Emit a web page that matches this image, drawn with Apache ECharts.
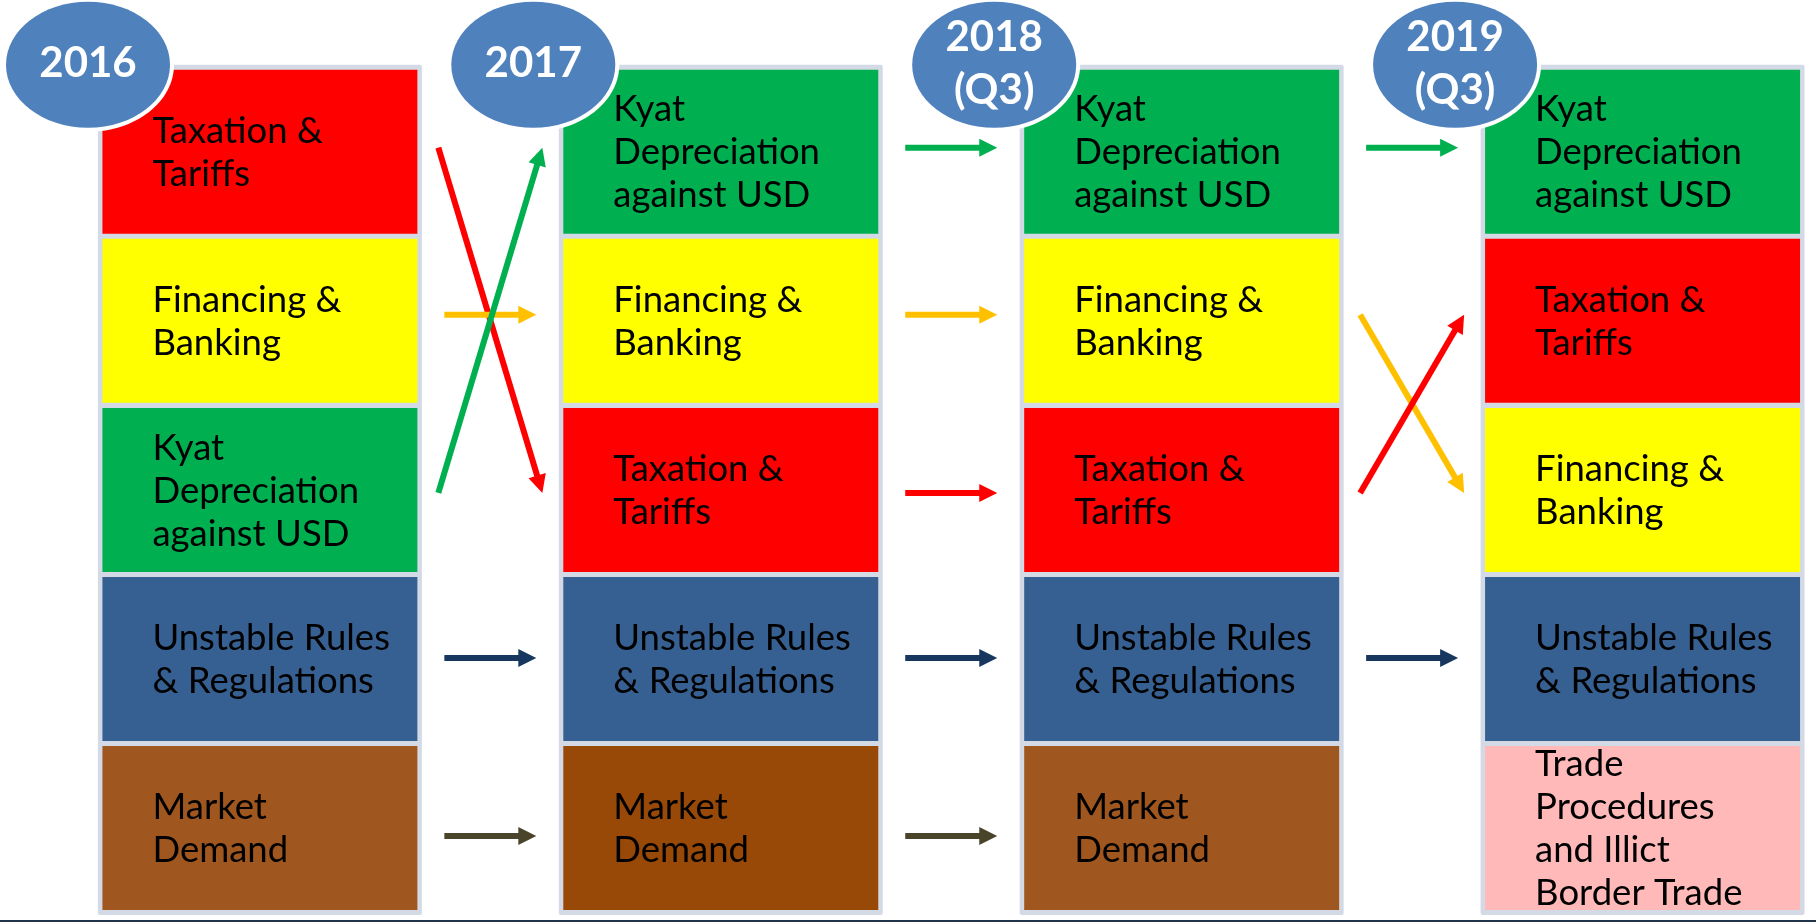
<!DOCTYPE html>
<html><head><meta charset="utf-8">
<script src="https://cdn.jsdelivr.net/npm/echarts@6/dist/echarts.min.js"></script>
<style>html,body{margin:0;padding:0;background:#fff;overflow:hidden}#c{width:1816px;height:922px}</style>
</head><body><div id="c"></div>
<script>
// ---- data ----
const years = ['2016', '2017', '2018\n(Q3)', '2019\n(Q3)'];
const yearIndex = [0, 1, 2, 3];
const ranks = ['1', '2', '3', '4', '5'];
const factors = ['Taxation & Tariffs', 'Financing & Banking', 'Kyat Depreciation against USD',
  'Unstable Rules & Regulations', 'Market Demand', 'Trade Procedures and Illict Border Trade'];
const factorLabels = ['Taxation &\nTariffs', 'Financing &\nBanking', 'Kyat\nDepreciation\nagainst USD',
  'Unstable Rules\n& Regulations', 'Market\nDemand', 'Trade\nProcedures\nand Illict\nBorder Trade'];
const rank2016 = ['Taxation & Tariffs', 'Financing & Banking', 'Kyat Depreciation against USD', 'Unstable Rules & Regulations', 'Market Demand'];
const rank2017 = ['Kyat Depreciation against USD', 'Financing & Banking', 'Taxation & Tariffs', 'Unstable Rules & Regulations', 'Market Demand'];
const rank2018 = ['Kyat Depreciation against USD', 'Financing & Banking', 'Taxation & Tariffs', 'Unstable Rules & Regulations', 'Market Demand'];
const rank2019 = ['Kyat Depreciation against USD', 'Taxation & Tariffs', 'Financing & Banking', 'Unstable Rules & Regulations', 'Trade Procedures and Illict Border Trade'];
const rankings = [rank2016, rank2017, rank2018, rank2019];

// ---- styles ----
const cellColors = ['#FF0000', '#FFFF00', '#00B050', '#376092', '#A0571F', '#FFB9B9'];
const market2017Color = '#984807';
const arrowColors = ['#FF0000', '#FFC000', '#00B050', '#17375E', '#4A452A', '#FFB9B9'];
const arrowRowShift = [-4, -6, 3, -1, 8];
const CELL_W = 0.6834, CELL_H = 0.97;
const FONT = 'Lato, "Open Sans", sans-serif';

const cellData = [];
rankings.forEach((r, yi) => r.forEach((f, ri) => cellData.push([yearIndex[yi], ri, factors.indexOf(f)])));
const arrowData = [];
for (let yi = 0; yi < rankings.length - 1; yi++) {
  rankings[yi].forEach((f, ri) => {
    const j = rankings[yi + 1].indexOf(f);
    if (j >= 0) arrowData.push([yearIndex[yi], ri, j, factors.indexOf(f)]);
  });
}
const yearData = yearIndex.map(i => [i, 0]);

function cellBox(api, yi, ri) {
  const c = api.coord([yi, ri]);
  const s = api.size([1, 1]);
  const w = s[0] * CELL_W, h = s[1] * CELL_H;
  return { x: c[0] - w / 2, y: c[1] - h / 2, w: w, h: h };
}

const chart = echarts.init(document.getElementById('c'), null, { renderer: 'canvas' });
chart.setOption({
  animation: false,
  backgroundColor: '#fff',
  grid: { left: 0, right: 0, top: 67.15, bottom: 9.35 },
  xAxis: { type: 'value', min: -0.5639, max: 3.3763, show: false, scale: true },
  yAxis: { type: 'category', data: ranks, inverse: true, boundaryGap: true, show: false },
  graphic: [{ type: 'rect', left: 0, bottom: 0, shape: { width: 1816, height: 2 }, style: { fill: '#22344A' } }],
  series: [
    { // column frames
      type: 'custom', data: yearData, encode: { x: 0, y: 1 }, z: 1,
      renderItem: function (params, api) {
        const yi = api.value(0);
        const a = cellBox(api, yi, 0), b = cellBox(api, yi, ranks.length - 1);
        return { type: 'rect', shape: { x: a.x - 4.5, y: a.y - 5, width: a.w + 9, height: b.y + b.h - a.y + 10, r: 2 },
          style: { fill: '#D3DAE6' } };
      }
    },
    { // cells
      type: 'custom', data: cellData, encode: { x: 0, y: 1 }, z: 2,
      renderItem: function (params, api) {
        const yi = api.value(0), ri = api.value(1), fi = api.value(2);
        const b = cellBox(api, yi, ri);
        const fill = (fi === 4 && yi === 1) ? market2017Color : cellColors[fi];
        return { type: 'group', children: [
          { type: 'rect', shape: { x: b.x, y: b.y, width: b.w, height: b.h }, style: { fill: fill } },
          { type: 'text', style: { text: factorLabels[fi], x: b.x + 50, y: b.y + b.h / 2 + 1,
            fill: '#000', fontSize: 36.5, fontFamily: FONT, lineHeight: 43, align: 'left', verticalAlign: 'middle' } }
        ] };
      }
    },
    { // arrows
      type: 'custom', data: arrowData, encode: { x: 0, y: 1 }, z: 3,
      renderItem: function (params, api) {
        const yi = api.value(0), r0 = api.value(1), r1 = api.value(2), fi = api.value(3);
        const a = api.coord([yi, r0]), b = api.coord([yi + 1, r1]);
        const mid = (a[0] + b[0]) / 2;
        const half = r0 === r1 ? 46 : 52;
        const x0 = mid - half, x1 = mid + half;
        const y0 = a[1] + arrowRowShift[r0], y1 = b[1] + arrowRowShift[r1];
        const ang = Math.atan2(y1 - y0, x1 - x0);
        const HL = 18, HW = 18;
        const bx = x1 - HL * Math.cos(ang), by = y1 - HL * Math.sin(ang);
        const px = -Math.sin(ang) * HW / 2, py = Math.cos(ang) * HW / 2;
        const col = arrowColors[fi];
        return { type: 'group', children: [
          { type: 'line', shape: { x1: x0, y1: y0, x2: bx + Math.cos(ang), y2: by + Math.sin(ang) }, style: { stroke: col, lineWidth: 6 } },
          { type: 'polygon', shape: { points: [[x1, y1], [bx + px, by + py], [bx - px, by - py]] }, style: { fill: col } }
        ] };
      }
    },
    { // year ellipses
      type: 'custom', data: yearData, encode: { x: 0, y: 1 }, z: 4,
      renderItem: function (params, api) {
        const yi = api.value(0);
        const b = cellBox(api, yi, 0);
        const rx = 82, ry = 63;
        const cx = Math.max(b.x - 30, rx + 6);
        const cy = b.y - 5;
        return { type: 'group', children: [
          { type: 'ellipse', shape: { cx: cx, cy: cy, rx: rx + 4, ry: ry + 4 }, style: { fill: '#fff' } },
          { type: 'ellipse', shape: { cx: cx, cy: cy, rx: rx, ry: ry }, style: { fill: '#4F81BD' } },
          { type: 'text', style: { text: years[yi], x: cx, y: cy - 1, fill: '#fff', fontSize: 42, fontWeight: 'bold',
            fontFamily: FONT, lineHeight: 53, align: 'center', verticalAlign: 'middle' } }
        ] };
      }
    }
  ]
});
</script></body></html>
